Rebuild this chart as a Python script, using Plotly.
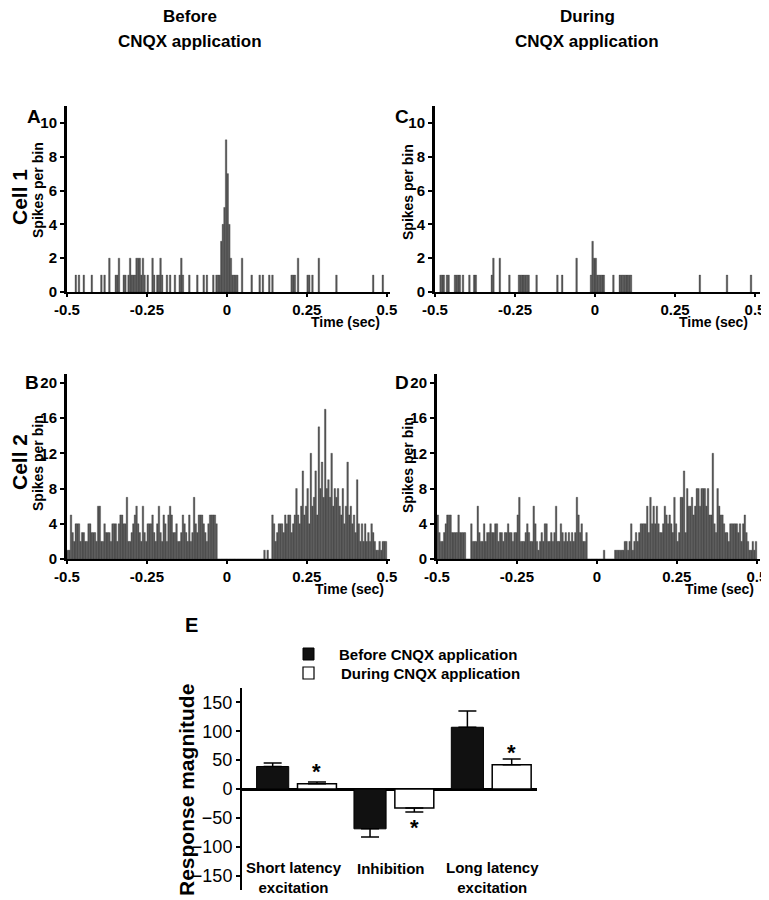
import plotly.graph_objects as go

# page offset of the plot inside the browser page (body margin)
OFF = 8
W, H = 769 - OFF, 900 - OFF
FONT = "Liberation Sans, Arial, sans-serif"

# ---------------- data ----------------
bin_width = 0.005  # sec
n_bins = 200

# Cell 1, before CNQX (sparse: bin centre time, spikes per bin)
cell1_before_t = [-0.4725, -0.4625, -0.4475, -0.4225, -0.3925, -0.3825, -0.3675, -0.3475, -0.3425, -0.3375,
                  -0.3225, -0.3175, -0.3075, -0.3025, -0.2975, -0.2925, -0.2875, -0.2825, -0.2775, -0.2725,
                  -0.2675, -0.2625, -0.2575, -0.2475, -0.2325, -0.2275, -0.2175, -0.2125, -0.2075, -0.2025,
                  -0.1875, -0.1775, -0.1625, -0.1475, -0.1425, -0.1375, -0.1175, -0.0925, -0.0725, -0.0625,
                  -0.0425, -0.0325, -0.0275, -0.0225, -0.0175, -0.0125, -0.0075, -0.0025, 0.0025, 0.0075,
                  0.0125, 0.0175, 0.0225, 0.0275, 0.0325, 0.0475, 0.0775, 0.1025, 0.1125, 0.1325,
                  0.1425, 0.2025, 0.2075, 0.2125, 0.2225, 0.2525, 0.2575, 0.2675, 0.2875, 0.3425,
                  0.4575, 0.4875]
cell1_before_n = [1, 1, 1, 1, 1, 1, 2, 1, 1, 2,
                  1, 1, 1, 2, 1, 1, 1, 2, 2, 2,
                  1, 2, 1, 1, 2, 1, 1, 1, 2, 1,
                  1, 1, 1, 1, 2, 1, 1, 1, 1, 1,
                  1, 1, 1, 1, 3, 4, 5, 9, 7, 4,
                  2, 1, 1, 1, 1, 2, 1, 1, 1, 1,
                  1, 1, 1, 1, 2, 1, 1, 1, 2, 1,
                  1, 1]

# Cell 1, during CNQX
cell1_during_t = [-0.4825, -0.4775, -0.4725, -0.4625, -0.4575, -0.4375, -0.4325, -0.4275, -0.4225, -0.4125,
                  -0.3925, -0.3775, -0.3725, -0.3225, -0.3175, -0.2975, -0.2675, -0.2375, -0.2325, -0.2275,
                  -0.2225, -0.2175, -0.2125, -0.2075, -0.1825, -0.1175, -0.1025, -0.0575, -0.0125, -0.0075,
                  -0.0025, 0.0025, 0.0075, 0.0125, 0.0175, 0.0225, 0.0275, 0.0575, 0.0775, 0.0825,
                  0.0875, 0.0925, 0.0975, 0.1025, 0.1075, 0.1125, 0.3275, 0.4125, 0.4875]
cell1_during_n = [1, 1, 1, 1, 1, 1, 1, 1, 1, 1,
                  1, 1, 1, 1, 2, 2, 1, 1, 1, 1,
                  1, 1, 1, 1, 1, 1, 1, 2, 1, 3,
                  2, 2, 1, 1, 1, 1, 1, 1, 1, 1,
                  1, 1, 1, 1, 1, 1, 1, 1, 1]

# Cell 2, before CNQX (200 bins, -0.5 .. 0.5 s)
cell2_before_n = (
    [1, 1, 5, 3, 2, 4, 4, 4, 2, 3,
     3, 2, 2, 4, 4, 3, 3, 3, 2, 6,
     6, 2, 2, 4, 3, 3, 3, 2, 4, 4,
     4, 2, 4, 5, 5, 4, 4, 7, 2, 2,
     3, 4, 5, 6, 4, 3, 2, 6, 3, 2,
     4, 4, 4, 5, 3, 2, 4, 6, 3, 2,
     5, 4, 2, 5, 6, 5, 3, 3, 4, 2,
     2, 3, 5, 4, 3, 2, 5, 2, 3, 7,
     4, 3, 5, 5, 5, 4, 3, 2, 4, 5,
     5, 5, 5, 4]
    + [0] * 29
    + [1, 0, 1, 0, 0]
    + [5, 4, 2, 3, 4, 4, 4, 3, 5, 4,
       5, 5, 3, 4, 5, 8, 5, 4, 6, 10,
       5, 6, 8, 4, 12, 6, 7, 10, 5, 15,
       8, 11, 7, 17, 8, 9, 7, 12, 6, 8,
       7, 8, 6, 5, 8, 4, 6, 11, 5, 6,
       4, 5, 3, 9, 4, 2, 4, 2, 4, 2,
       3, 2, 4, 3, 2, 1, 1, 2, 1, 2,
       2, 2]
)

# Cell 2, during CNQX
cell2_during_n = (
    [5, 3, 2, 2, 3, 4, 5, 5, 5, 3,
     3, 3, 3, 5, 3, 3, 3, 3, 0, 0,
     0, 4, 2, 2, 2, 6, 3, 2, 2, 4,
     2, 3, 3, 4, 3, 3, 4, 4, 2, 3,
     3, 2, 3, 3, 4, 3, 3, 2, 3, 3,
     5, 7, 2, 2, 2, 3, 4, 3, 2, 2,
     6, 4, 2, 1, 2, 3, 2, 4, 4, 2,
     2, 3, 2, 3, 6, 2, 2, 4, 3, 2,
     3, 2, 3, 2, 3, 2, 3, 7, 5, 3,
     4, 2, 2, 3]
    + [0] * 10
    + [1]
    + [0] * 6
    + [1, 1, 1, 1, 1, 1, 2, 2, 1, 2,
       4, 1, 2, 3, 2, 3, 4, 4, 4, 4,
       6, 3, 7, 4, 6, 4, 6, 4, 3, 3,
       4, 6, 5, 4, 5, 4, 3, 7, 4, 2,
       3, 7, 7, 10, 3, 8, 6, 6, 7, 5,
       6, 8, 8, 6, 8, 8, 8, 6, 8, 5,
       5, 12, 4, 3, 8, 6, 5, 5, 4, 3,
       3, 2, 4, 4, 4, 4, 4, 3, 4, 2,
       4, 5, 3, 2, 1, 1, 2, 1, 2]
)

time_ticks = [-0.5, -0.25, 0, 0.25, 0.5]
time_ticklabels = ["-0.5", "-0.25", "0", "0.25", "0.5"]

categories = ["Short latency<br>excitation", "Inhibition", "Long latency<br>excitation"]
before_mean = [39, -69, 107]
before_sem = [6, 14, 28]
during_mean = [9, -33, 42]
during_sem = [3, 7, 10]
significant = [True, True, True]

# ---------------- helpers (page pixel -> paper) ----------------
def fx(p):
    return (p - OFF) / W

def fy(p):
    return 1 - (p - OFF) / H

def ann(text, x, y, size, angle=0, xanchor="center", yanchor="middle", weight="bold"):
    return dict(text=text, x=fx(x), y=fy(y), xref="paper", yref="paper", showarrow=False,
                font=dict(family=FONT, size=size, color="black", weight=weight),
                textangle=angle, xanchor=xanchor, yanchor=yanchor)

bin_centers = [-0.5 + bin_width * (i + 0.5) for i in range(n_bins)]
BAR_COLOR = "#5a5a5a"

fig = go.Figure()

def hist(x, y, ax):
    fig.add_trace(go.Bar(x=x, y=y, width=bin_width,
                         marker=dict(color=BAR_COLOR, line=dict(color="#2a2a2a", width=0.3)),
                         xaxis="x" + ax, yaxis="y" + ax, showlegend=False, hoverinfo="skip"))

hist(cell1_before_t, cell1_before_n, "")
hist(cell1_during_t, cell1_during_n, "2")
hist(bin_centers, cell2_before_n, "3")
hist(bin_centers, cell2_during_n, "4")

# Panel E bars
xs = list(range(len(categories)))
fig.add_trace(go.Bar(
    x=xs, y=before_mean, width=0.33, offset=-0.40,
    marker=dict(color="#111111", line=dict(color="black", width=1)),
    error_y=dict(type="data", symmetric=False,
                 array=[s if m > 0 else 0 for m, s in zip(before_mean, before_sem)],
                 arrayminus=[s if m < 0 else 0 for m, s in zip(before_mean, before_sem)],
                 color="black", thickness=1.5, width=9),
    xaxis="x5", yaxis="y5", showlegend=False))
fig.add_trace(go.Bar(
    x=xs, y=during_mean, width=0.40, offset=0.02,
    marker=dict(color="white", line=dict(color="black", width=1.5)),
    error_y=dict(type="data", symmetric=False,
                 array=[s if m > 0 else 0 for m, s in zip(during_mean, during_sem)],
                 arrayminus=[s if m < 0 else 0 for m, s in zip(during_mean, during_sem)],
                 color="black", thickness=1.5, width=9),
    xaxis="x5", yaxis="y5", showlegend=False))

# ---------------- axes ----------------
tickfont_b = dict(family=FONT, size=15, color="black", weight="bold")

def xhist(x0, x1, rmax, anchor):
    return dict(domain=[fx(x0), fx(x1)], range=[-0.5, rmax], anchor=anchor,
                showline=True, linewidth=2, linecolor="black", mirror=False,
                tickvals=time_ticks, ticktext=time_ticklabels, ticks="outside", ticklen=3,
                tickwidth=1.5, tickcolor="black", tickfont=tickfont_b,
                ticklabeloverflow="allow",
                showgrid=False, zeroline=False, fixedrange=True, automargin=False)

def yhist(y0, y1, rmax, tv, anchor):
    return dict(domain=[fy(y0), fy(y1)], range=[0, rmax], anchor=anchor,
                showline=True, linewidth=3, linecolor="black",
                tickvals=tv, ticks="outside", ticklen=4, tickwidth=1.5, tickcolor="black",
                tickfont=tickfont_b, showgrid=False, zeroline=False, fixedrange=True,
                automargin=False)

fig.update_layout(
    width=W, height=H, margin=dict(l=0, r=0, t=0, b=0, pad=0, autoexpand=False),
    paper_bgcolor="white", plot_bgcolor="white", barmode="overlay", showlegend=False,
    xaxis=xhist(67, 390, 0.51, "y"),
    yaxis=yhist(292, 106, 11, [0, 2, 4, 6, 8, 10], "x"),
    xaxis2=xhist(435, 760, 0.5156, "y2"),
    yaxis2=yhist(292, 106, 11, [0, 2, 4, 6, 8, 10], "x2"),
    xaxis3=xhist(67, 390, 0.51, "y3"),
    yaxis3=yhist(559, 374, 21, [0, 4, 8, 12, 16, 20], "x3"),
    xaxis4=xhist(437, 760, 0.51, "y4"),
    yaxis4=yhist(559, 374, 21, [0, 4, 8, 12, 16, 20], "x4"),
    xaxis5=dict(domain=[fx(242), fx(537)], range=[-0.55, 2.48], anchor="y5",
                showline=False, showticklabels=False, ticks="", showgrid=False,
                zeroline=False, fixedrange=True, automargin=False),
    yaxis5=dict(domain=[fy(890), fy(688)], range=[-175, 175], anchor="x5",
                showline=True, linewidth=2, linecolor="black",
                tickvals=[-150, -100, -50, 0, 50, 100, 150], ticks="outside", ticklen=4,
                tickwidth=1.5, tickcolor="black",
                tickfont=dict(family=FONT, size=18, color="black"),
                showgrid=False, zeroline=True, zerolinecolor="black", zerolinewidth=2.5,
                fixedrange=True, automargin=False),
)

annotations = [
    ann("Before", 190, 17, 17),
    ann("CNQX application", 190, 41, 17),
    ann("During", 587, 17, 17),
    ann("CNQX application", 587, 41, 17),
    ann("Cell 1", 19, 197, 21, angle=-90),
    ann("Cell 2", 19, 462, 21, angle=-90),
    ann("A", 34, 117, 19),
    ann("B", 32, 382, 19),
    ann("C", 402, 117, 19),
    ann("D", 402, 382, 19),
    ann("Spikes per bin", 38, 190, 14, angle=-90),
    ann("Spikes per bin", 408, 192, 14, angle=-90),
    ann("Spikes per bin", 38, 463, 14, angle=-90),
    ann("Spikes per bin", 408, 465, 14, angle=-90),
    ann("Time (sec)", 345, 322, 14),
    ann("Time (sec)", 713, 322, 14),
    ann("Time (sec)", 349, 589, 14),
    ann("Time (sec)", 719, 589, 14),
    ann("E", 191, 625, 20),
    ann("Before CNQX application", 337, 654, 15, xanchor="left"),
    ann("During CNQX application", 339, 673, 15, xanchor="left"),
    ann("Response magnitude", 186, 790, 21, angle=-90),
    ann(categories[0], 294, 877, 15),
    ann(categories[1], 390, 868, 15),
    ann(categories[2], 492, 877, 15),
]
star_y = [30, -66, 64]
for i, sig in enumerate(significant):
    if sig:
        annotations.append(dict(text="*", x=i + 0.22, y=star_y[i], xref="x5", yref="y5",
                                showarrow=False, xanchor="center", yanchor="middle",
                                font=dict(family=FONT, size=22, color="black", weight="bold")))
fig.update_layout(annotations=annotations)

fig.update_layout(shapes=[
    dict(type="rect", xref="paper", yref="paper", x0=fx(303), x1=fx(314), y0=fy(660), y1=fy(648),
         fillcolor="#111111", line=dict(color="black", width=1)),
    dict(type="rect", xref="paper", yref="paper", x0=fx(303), x1=fx(314), y0=fy(679), y1=fy(667),
         fillcolor="white", line=dict(color="black", width=1.2)),
])

fig.write_html("out.html")
